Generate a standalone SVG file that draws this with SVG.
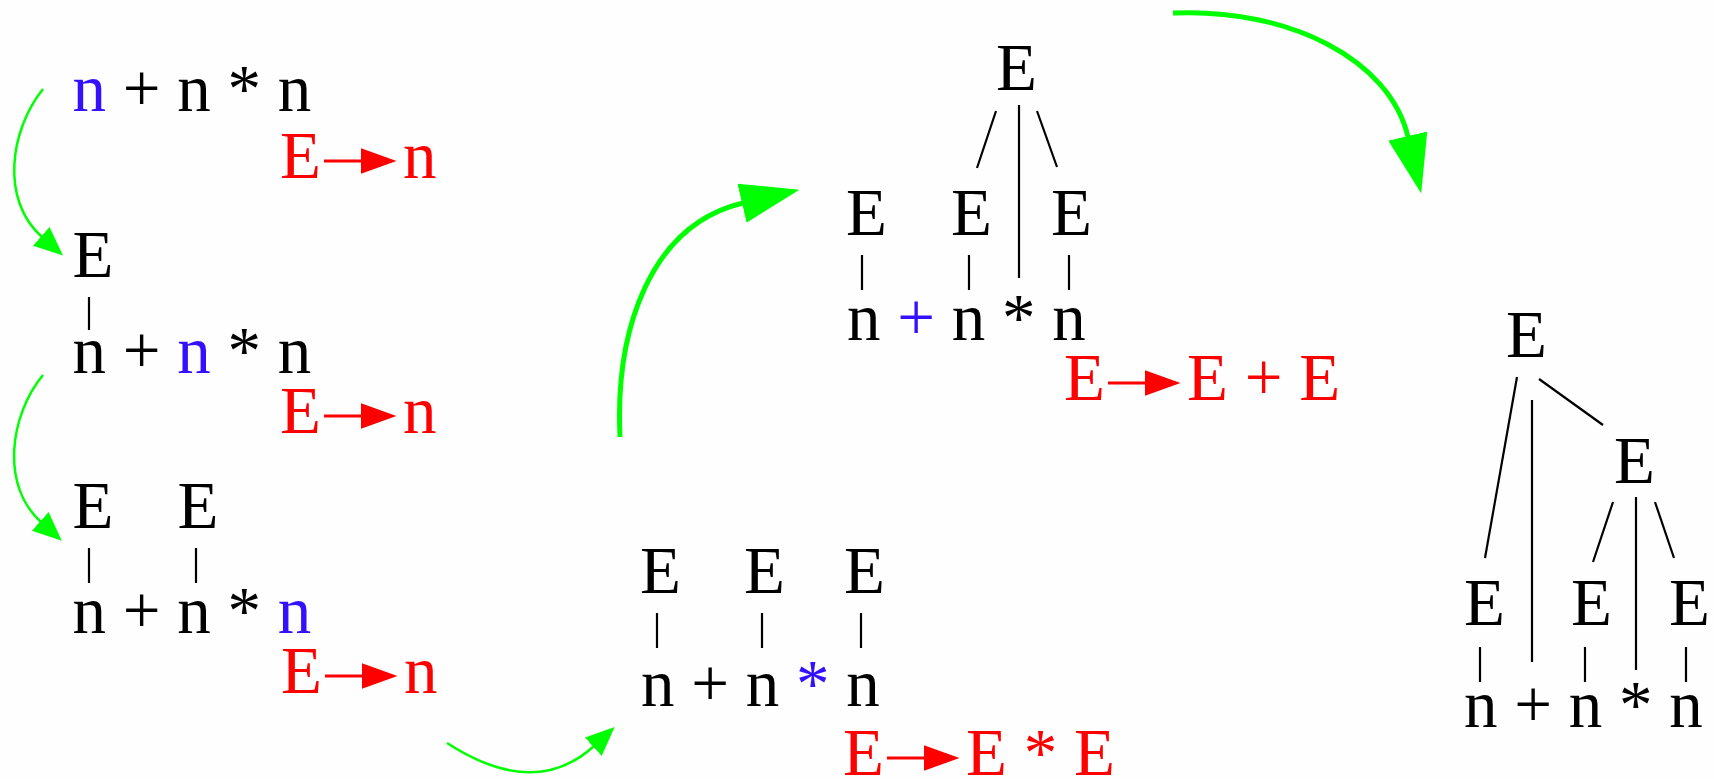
<svg xmlns="http://www.w3.org/2000/svg" width="1714" height="779" viewBox="0 0 1714 779">
<style>
.t{font-family:"Liberation Serif","Times New Roman",serif;font-size:67px;fill:#000}
.r{fill:#ff0000}
.b{fill:#3311ff}
.ln{stroke:#000;stroke-width:2.2;fill:none}
.ra{stroke:#ff0000;stroke-width:3;marker-end:url(#rh)}
.g1{stroke:#00ff00;stroke-width:2.5;fill:none;marker-end:url(#gh1)}
.g2{stroke:#00ff00;stroke-width:5;fill:none;marker-end:url(#gh2)}
</style>
<defs>
<marker id="rh" viewBox="0 0 36 26" refX="0.5" refY="13" markerWidth="36" markerHeight="26" markerUnits="userSpaceOnUse" orient="auto"><path d="M0,0 L36,13 L0,26 Z" fill="#ff0000"/></marker>
<marker id="gh1" viewBox="0 0 29 25" refX="1" refY="12.5" markerWidth="29" markerHeight="25" markerUnits="userSpaceOnUse" orient="auto"><path d="M0,0 L29,12.5 L0,25 Z" fill="#00ff00"/></marker>
<marker id="gh2" viewBox="0 0 59 40" refX="1" refY="20" markerWidth="59" markerHeight="40" markerUnits="userSpaceOnUse" orient="auto"><path d="M0,0 L59,20 L0,40 Z" fill="#00ff00"/></marker>
</defs>
<rect width="1714" height="779" fill="#fefefe"/>

<g id="step1">
<text class="t" x="72.5" y="111"><tspan class="b">n</tspan> + n * n</text>
<text class="t r" x="280" y="178">E</text>
<line class="ra" x1="324" y1="161" x2="361" y2="161"/>
<text class="t r" x="403" y="178">n</text>
</g>

<g id="step2">
<text class="t" x="72.5" y="277">E</text>
<line class="ln" x1="89" y1="297" x2="89" y2="330"/>
<text class="t" x="72.5" y="373">n + <tspan class="b">n</tspan> * n</text>
<text class="t r" x="280" y="433">E</text>
<line class="ra" x1="324" y1="416" x2="361" y2="416"/>
<text class="t r" x="403" y="433">n</text>
</g>

<g id="step3">
<text class="t" x="72.5" y="528">E</text>
<text class="t" x="177.5" y="528">E</text>
<line class="ln" x1="89" y1="548" x2="89" y2="583"/>
<line class="ln" x1="196" y1="548" x2="196" y2="583"/>
<text class="t" x="72.5" y="633">n + n * <tspan class="b">n</tspan></text>
<text class="t r" x="281" y="693">E</text>
<line class="ra" x1="325" y1="676" x2="362" y2="676"/>
<text class="t r" x="404" y="693">n</text>
</g>

<g id="step4">
<text class="t" x="640" y="593">E</text>
<text class="t" x="744" y="593">E</text>
<text class="t" x="844" y="593">E</text>
<line class="ln" x1="657" y1="613" x2="657" y2="648"/>
<line class="ln" x1="762" y1="613" x2="762" y2="648"/>
<line class="ln" x1="861" y1="613" x2="861" y2="648"/>
<text class="t" x="641" y="706">n + n <tspan class="b">*</tspan> n</text>
<text class="t r" x="843" y="775">E</text>
<line class="ra" x1="887" y1="758" x2="924" y2="758"/>
<text class="t r" x="966" y="775">E * E</text>
</g>

<g id="step5">
<text class="t" x="996" y="90">E</text>
<line class="ln" x1="996" y1="111" x2="977" y2="168"/>
<line class="ln" x1="1019" y1="105" x2="1019" y2="278"/>
<line class="ln" x1="1037" y1="111" x2="1057" y2="167"/>
<text class="t" x="846" y="235">E</text>
<text class="t" x="951" y="235">E</text>
<text class="t" x="1051" y="235">E</text>
<line class="ln" x1="862" y1="255" x2="862" y2="290"/>
<line class="ln" x1="969" y1="255" x2="969" y2="290"/>
<line class="ln" x1="1069" y1="255" x2="1069" y2="290"/>
<text class="t" x="847" y="340">n <tspan class="b">+</tspan> n * n</text>
<text class="t r" x="1064" y="400">E</text>
<line class="ra" x1="1108" y1="383" x2="1145" y2="383"/>
<text class="t r" x="1187" y="400">E + E</text>
</g>

<g id="step6">
<text class="t" x="1506" y="357">E</text>
<line class="ln" x1="1517" y1="377" x2="1485" y2="558"/>
<line class="ln" x1="1532" y1="400" x2="1532" y2="662"/>
<line class="ln" x1="1539" y1="379" x2="1603" y2="425"/>
<text class="t" x="1614" y="483">E</text>
<line class="ln" x1="1613" y1="502" x2="1593" y2="562"/>
<line class="ln" x1="1636" y1="497" x2="1636" y2="670"/>
<line class="ln" x1="1655" y1="502" x2="1674" y2="558"/>
<text class="t" x="1464" y="625">E</text>
<text class="t" x="1571" y="625">E</text>
<text class="t" x="1669" y="625">E</text>
<line class="ln" x1="1480" y1="647" x2="1480" y2="682"/>
<line class="ln" x1="1585" y1="647" x2="1585" y2="682"/>
<line class="ln" x1="1686" y1="647" x2="1686" y2="682"/>
<text class="t" x="1464" y="727">n + n * n</text>
</g>

<g id="connectors">
<path class="g1" d="M43,89 C10,130 0,200 42,237"/>
<path class="g1" d="M43,375 C10,415 0,485 41,522"/>
<path class="g1" d="M447,743 Q535,800 594,746"/>
<path class="g2" d="M620,437 C615,330 650,225 743,203"/>
<path class="g2" d="M1173,13 C1290,8 1390,60 1408,137"/>
</g>
</svg>
